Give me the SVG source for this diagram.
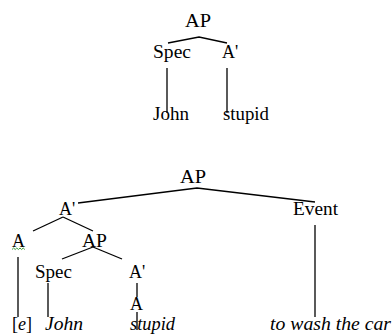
<svg xmlns="http://www.w3.org/2000/svg" width="392" height="334" viewBox="0 0 392 334">
<style>
text{font-family:"Liberation Serif","Times New Roman",Times,"DejaVu Serif",serif;font-size:18px;fill:#000}
.i{font-style:italic}
#edges line,#edges polyline{stroke:#000;stroke-width:1.3;fill:none}
</style>
<rect width="392" height="334" fill="#fff"/>
<g id="edges">
<polyline points="168,43 199,37 227,43"/>
<line x1="167" y1="68" x2="167" y2="113"/>
<line x1="227" y1="68" x2="227" y2="113"/>
<polyline points="78,203 197,188 315,202"/>
<line x1="315" y1="225" x2="315" y2="317"/>
<line x1="63" y1="217" x2="33" y2="231"/>
<line x1="63" y1="217" x2="93" y2="231"/>
<line x1="93" y1="247" x2="62" y2="259"/>
<line x1="93" y1="247" x2="122" y2="259"/>
<line x1="18" y1="257" x2="18" y2="317"/>
<line x1="48" y1="283" x2="48" y2="317"/>
<line x1="137" y1="283" x2="137" y2="297"/>
<line x1="137" y1="312" x2="137" y2="330"/>
</g>
<g id="top-AP"><text x="185" y="27" textLength="26" lengthAdjust="spacingAndGlyphs">AP</text></g>
<g id="top-Spec"><text x="153" y="58" textLength="38" lengthAdjust="spacingAndGlyphs">Spec</text></g>
<g id="top-Abar"><text x="222" y="58">A'</text></g>
<g id="top-John"><text x="153" y="120" textLength="36" lengthAdjust="spacingAndGlyphs">John</text></g>
<g id="top-stupid"><text x="223" y="120" textLength="46" lengthAdjust="spacingAndGlyphs">stupid</text></g>
<g id="b-AP"><text x="180" y="183" textLength="26" lengthAdjust="spacingAndGlyphs">AP</text></g>
<g id="b-Event"><text x="293" y="215" textLength="45" lengthAdjust="spacingAndGlyphs">Event</text></g>
<g id="b-Abar"><text x="59" y="215">A'</text></g>
<g id="b-A"><text x="12" y="247">A</text><path d="M12,249.5 l1.6,-1.5 l1.6,1.5 l1.6,-1.5 l1.6,1.5 l1.6,-1.5 l1.6,1.5 l1.6,-1.5 l1.6,1.5" stroke="#3a9a3a" stroke-width="1" fill="none"/></g>
<g id="b-AP2"><text x="82" y="247" textLength="25" lengthAdjust="spacingAndGlyphs">AP</text></g>
<g id="b-Spec"><text x="35" y="278" textLength="37" lengthAdjust="spacingAndGlyphs">Spec</text></g>
<g id="b-Abar2"><text x="129" y="278">A'</text></g>
<g id="b-A2"><text x="130" y="310">A</text></g>
<g id="b-e"><text x="12" y="330">[<tspan class="i">e</tspan>]</text></g>
<g id="b-John"><text class="i" x="45" y="330" textLength="38" lengthAdjust="spacingAndGlyphs">John</text></g>
<g id="b-stupid"><text class="i" x="130" y="330" textLength="45" lengthAdjust="spacingAndGlyphs">stupid</text></g>
<g id="b-event-text"><text class="i" x="270" y="330" textLength="121" lengthAdjust="spacingAndGlyphs">to wash the car</text></g>
</svg>
